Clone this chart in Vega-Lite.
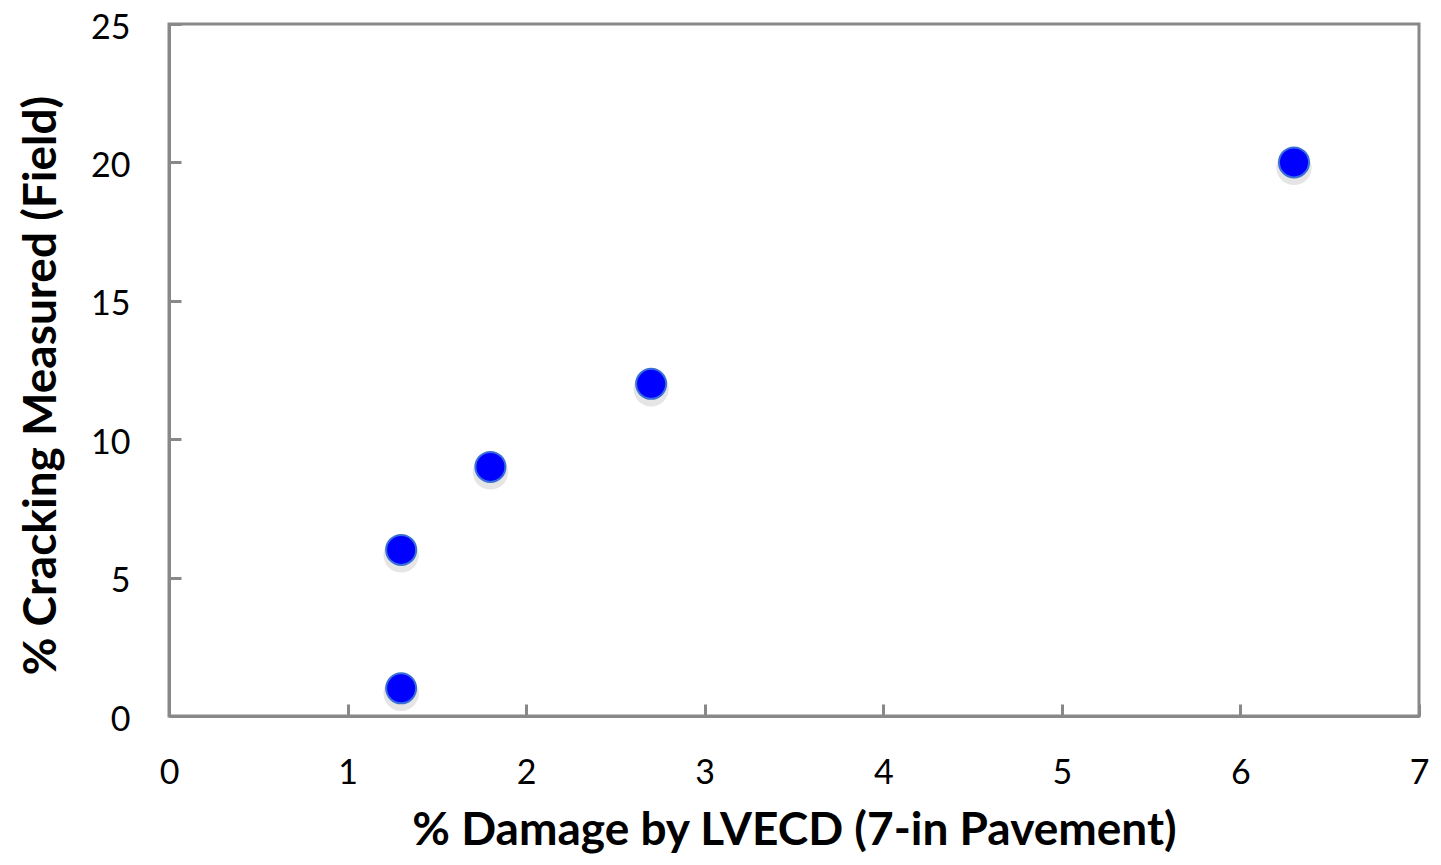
{
  "$schema": "https://vega.github.io/schema/vega-lite/v6.json",
  "width": 1250,
  "height": 692,
  "autosize": {"type": "none"},
  "padding": {"left": 169, "top": 24, "right": 22, "bottom": 149},
  "background": "white",
  "config": {
    "view": {"stroke": "#888888", "strokeWidth": 3},
    "font": "Lato"
  },
  "data": {
    "values": [
      {"damage": 1.3, "cracking": 1},
      {"damage": 1.3, "cracking": 6},
      {"damage": 1.8, "cracking": 9},
      {"damage": 2.7, "cracking": 12},
      {"damage": 6.3, "cracking": 20}
    ]
  },
  "layer": [
    {
      "mark": {"type": "point", "filled": true, "shape": "circle", "size": 1250, "color": "#8a8a8a", "opacity": 0.22, "yOffset": 5},
      "encoding": {
        "x": {"field": "damage", "type": "quantitative"},
        "y": {"field": "cracking", "type": "quantitative"}
      }
    },
    {
      "mark": {"type": "point", "filled": true, "shape": "circle", "size": 900, "color": "#0000ff", "opacity": 1, "stroke": "#3a6fd8", "strokeWidth": 2},
      "encoding": {
        "x": {
          "field": "damage", "type": "quantitative",
          "scale": {"domain": [0, 7], "nice": false, "zero": true},
          "axis": {
            "title": "% Damage by LVECD (7-in Pavement)",
            "values": [0, 1, 2, 3, 4, 5, 6, 7],
            "format": "d",
            "grid": false,
            "labelFlush": false,
            "domainColor": "#888888", "domainWidth": 3,
            "tickColor": "#888888", "tickWidth": 3, "tickSize": -12,
            "labelFont": "Lato", "labelFontSize": 34, "labelColor": "#000000",
            "labelPadding": 52,
            "titleFont": "Lato", "titleFontSize": 46, "titleFontWeight": "bold", "titleColor": "#000000",
            "titlePadding": 18
          }
        },
        "y": {
          "field": "cracking", "type": "quantitative",
          "scale": {"domain": [0, 25], "nice": false},
          "axis": {
            "title": "% Cracking Measured (Field)",
            "values": [0, 5, 10, 15, 20, 25],
            "format": "d",
            "grid": false,
            "labelFlush": false,
            "domainColor": "#888888", "domainWidth": 3,
            "tickColor": "#888888", "tickWidth": 3, "tickSize": -12,
            "labelFont": "Lato", "labelFontSize": 34, "labelColor": "#000000",
            "labelPadding": 51,
            "labelOffset": 4,
            "titleFont": "Lato", "titleFontSize": 46, "titleFontWeight": "bold", "titleColor": "#000000",
            "titlePadding": 25,
            "titleY": 361
          }
        }
      }
    }
  ]
}
